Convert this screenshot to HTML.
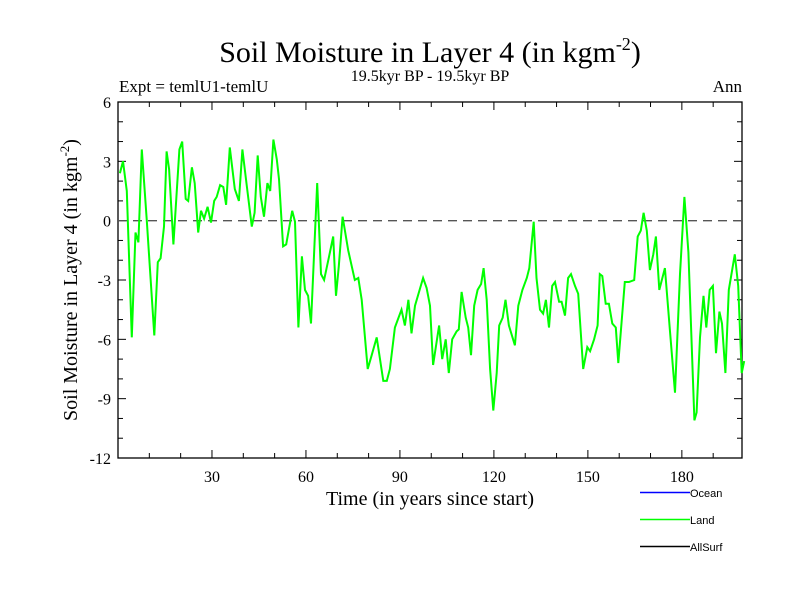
<!DOCTYPE html>
<html><head><meta charset="utf-8"><style>
body{margin:0;background:#fff}
svg text{font-family:"Liberation Serif",serif;fill:#000}
</style></head><body>
<svg id="chart" width="800" height="600" xmlns="http://www.w3.org/2000/svg">
<text x="430" y="62" font-size="30" text-anchor="middle">Soil Moisture in Layer 4 (in kgm<tspan font-size="18" dy="-12">-2</tspan><tspan dy="12">)</tspan></text>
<text x="430" y="81" font-size="16" text-anchor="middle">19.5kyr BP - 19.5kyr BP</text>
<text x="119" y="92" font-size="17">Expt = temlU1-temlU</text>
<text x="742" y="92" font-size="17" text-anchor="end">Ann</text>
<text transform="translate(77,280) rotate(-90)" font-size="20" text-anchor="middle">Soil Moisture in Layer 4 (in kgm<tspan font-size="13" dy="-8">-2</tspan><tspan dy="8">)</tspan></text>
<text x="430" y="505" font-size="20" text-anchor="middle">Time (in years since start)</text>
<g id="axes"></g>
<line x1="118" x2="742" y1="220.7" y2="220.7" stroke="#555" stroke-width="1.3" stroke-dasharray="9,6"/>
<path id="land" fill="none" stroke="#00ff00" stroke-width="2"/>
<g>
<line x1="640" x2="690" y1="492.5" y2="492.5" stroke="#0000ff" stroke-width="1.5"/>
<text x="690" y="497" font-size="11" style="font-family:'Liberation Sans',sans-serif">Ocean</text>
<line x1="640" x2="690" y1="519.5" y2="519.5" stroke="#00ff00" stroke-width="1.5"/>
<text x="690" y="524" font-size="11" style="font-family:'Liberation Sans',sans-serif">Land</text>
<line x1="640" x2="690" y1="546.5" y2="546.5" stroke="#000" stroke-width="1.5"/>
<text x="690" y="551" font-size="11" style="font-family:'Liberation Sans',sans-serif">AllSurf</text>
</g>
</svg>
<script>
const years=[0.6,1.6,2.8,4.4,5.6,6.5,7.6,9.2,11.6,12.7,13.6,14.7,15.5,16.3,17.7,19.6,20.5,21.6,22.4,23.6,24.5,25.6,26.5,27.5,28.6,29.7,30.7,31.5,32.6,33.6,34.5,35.7,37.3,38.6,39.7,41.1,42.7,43.6,44.6,45.6,46.6,47.7,48.6,49.6,50.7,51.4,52.7,53.7,55.6,56.5,57.6,58.7,59.7,60.7,61.6,62.7,63.6,64.8,65.8,67.4,68.7,69.6,70.5,71.7,73.5,75.6,76.7,77.8,79.7,81.0,82.6,84.7,85.8,86.8,88.4,90.5,91.6,92.7,93.7,94.8,97.4,98.5,99.6,100.6,102.5,103.5,104.6,105.6,106.7,108.1,108.8,109.7,111.0,111.8,112.7,113.7,114.8,115.9,116.7,117.7,118.8,119.8,120.9,121.7,122.8,123.7,124.8,126.7,127.8,129.1,130.5,131.3,132.7,133.6,134.7,135.7,136.6,137.6,138.6,139.5,140.8,141.6,142.7,143.7,144.6,145.9,146.9,148.5,149.8,150.7,152.0,153.1,153.8,154.6,155.7,156.7,157.8,158.9,159.7,161.8,163.1,164.8,165.9,166.9,167.8,168.8,169.8,170.9,171.7,172.8,174.6,176.2,177.8,179.4,180.8,182.1,184.0,184.7,185.8,186.9,187.8,188.9,189.9,190.9,192.0,192.8,193.9,195.0,196.9,198.0,199.1,199.9];
const landValues=[2.4,3.0,1.5,-5.9,-0.6,-1.1,3.6,0,-5.8,-2.1,-1.9,-0.3,3.5,2.6,-1.2,3.6,4.0,1.1,1.0,2.7,1.9,-0.6,0.5,0.1,0.7,-0.1,1.0,1.2,1.8,1.7,0.8,3.7,1.6,1.0,3.6,1.8,-0.3,0.4,3.3,1.2,0.2,1.9,1.5,4.1,3.1,2.1,-1.3,-1.2,0.5,-0.05,-5.4,-1.8,-3.5,-3.8,-5.2,-1.3,1.9,-2.7,-3.0,-1.8,-0.8,-3.8,-2.3,0.2,-1.5,-3.0,-2.9,-4.0,-7.5,-6.8,-5.9,-8.1,-8.1,-7.5,-5.4,-4.5,-5.3,-4.0,-5.7,-4.3,-2.9,-3.4,-4.3,-7.3,-5.3,-7.0,-6.0,-7.7,-6.0,-5.6,-5.5,-3.6,-4.9,-5.4,-6.8,-4.3,-3.5,-3.2,-2.4,-4.0,-7.5,-9.6,-7.7,-5.3,-4.9,-4.0,-5.3,-6.3,-4.3,-3.5,-2.9,-2.4,-0.05,-2.9,-4.5,-4.7,-4.0,-5.4,-3.3,-3.1,-4.1,-4.1,-4.8,-2.9,-2.7,-3.3,-3.7,-7.5,-6.4,-6.6,-6.0,-5.3,-2.7,-2.8,-4.2,-4.2,-5.2,-5.4,-7.2,-3.1,-3.1,-3.0,-0.8,-0.5,0.4,-0.5,-2.5,-1.7,-0.8,-3.5,-2.4,-5.6,-8.7,-2.7,1.2,-1.6,-10.1,-9.7,-5.9,-3.8,-5.4,-3.5,-3.3,-6.7,-4.6,-5.2,-7.7,-3.5,-1.7,-3.3,-7.7,-7.1];
const yTickLabels=[6,3,0,-3,-6,-9,-12];
const xTickLabels=[30,60,90,120,150,180];
const L=118,R=742,T=102,B=458,X0=0,X1=199.2,Y0=-12,Y1=6;
const sx=v=>L+(v-X0)/(X1-X0)*(R-L);
const sy=v=>B-(v-Y0)/(Y1-Y0)*(B-T);
const NS="http://www.w3.org/2000/svg";
const axes=document.getElementById('axes');
function ln(x1,y1,x2,y2,w){const l=document.createElementNS(NS,'line');l.setAttribute('x1',x1);l.setAttribute('y1',y1);l.setAttribute('x2',x2);l.setAttribute('y2',y2);l.setAttribute('stroke','#000');l.setAttribute('stroke-width',w||1);axes.appendChild(l);return l;}
const fr=document.createElementNS(NS,'rect');


fr.setAttribute('x',L);fr.setAttribute('y',T);fr.setAttribute('width',R-L);fr.setAttribute('height',B-T);fr.setAttribute('fill','none');fr.setAttribute('stroke','#000');fr.setAttribute('stroke-width','1.3');
axes.appendChild(fr);
for(let v=Y0;v<=Y1;v+=1){const y=sy(v);const maj=(v%3===0);const len=maj?8:5;
 const a=ln(L,y,L+len,y);
 const b=ln(R-len,y,R,y);}
yTickLabels.forEach(v=>{const t=document.createElementNS(NS,'text');
 
 
 t.setAttribute('x',L-7);t.setAttribute('y',sy(v)+6);t.setAttribute('font-size','16');t.setAttribute('text-anchor','end');t.textContent=v;axes.appendChild(t);});
for(let v=10;v<X1;v+=10){const x=sx(v);const maj=(v%30===0);const len=maj?8:5;
 const a=ln(x,B,x,B-len);
 const b=ln(x,T,x,T+len);}
xTickLabels.forEach(v=>{const t=document.createElementNS(NS,'text');
 
 
 t.setAttribute('x',sx(v));t.setAttribute('y',B+24);t.setAttribute('font-size','16');t.setAttribute('text-anchor','middle');t.textContent=v;axes.appendChild(t);});
document.getElementById('land').setAttribute('d',years.map((yr,i)=>(i?'L':'M')+sx(yr).toFixed(1)+','+sy(landValues[i]).toFixed(1)).join(''));
</script>
</body></html>
